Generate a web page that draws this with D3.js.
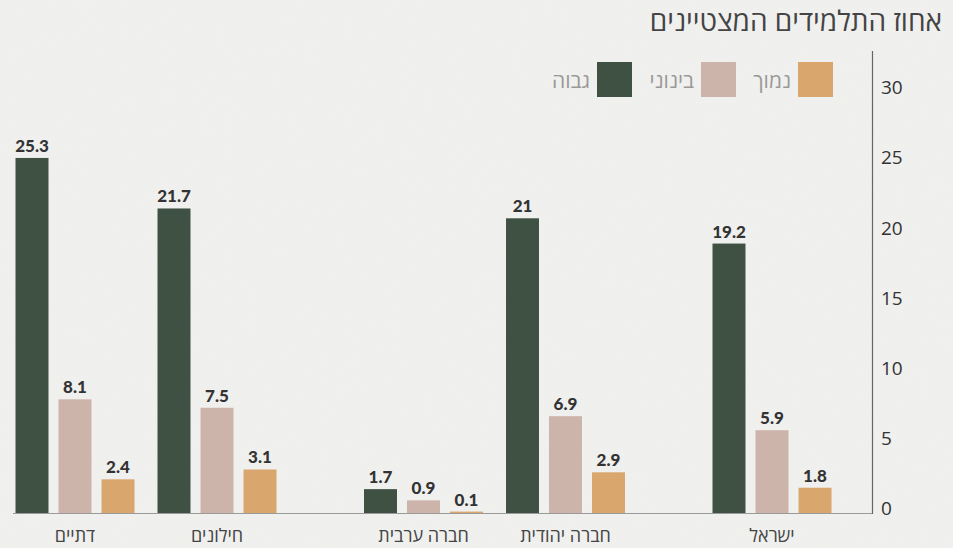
<!DOCTYPE html>
<html lang="he">
<head>
<meta charset="utf-8">
<script src="https://cdn.jsdelivr.net/npm/d3@7/dist/d3.min.js"></script>
<style>
  html, body { margin: 0; padding: 0; background: #efefed; }
  svg { display: block; }
</style>
</head>
<body>
<svg id="chart" width="953" height="548"></svg>
<script>
// ---- data ----
const categories = ["ישראל", "חברה יהודית", "חברה ערבית", "חילונים", "דתיים"];
const clusters   = [0, 1, 1, 2, 2];           // logical grouping: total | society | religiosity
const seriesNames = ["גבוה", "בינוני", "נמוך"];
const highValues   = [19.2, 21, 1.7, 21.7, 25.3];
const mediumValues = [5.9, 6.9, 0.9, 7.5, 8.1];
const lowValues    = [1.8, 2.9, 0.1, 3.1, 2.4];
const yTicks = [0, 5, 10, 15, 20, 25, 30];
const title = "אחוז התלמידים המצטיינים";

// ---- layout ----
const W = 953, H = 548;
const svg = d3.select("#chart");
const colors = { "גבוה": "#3e5143", "בינוני": "#cdb4ab", "נמוך": "#d9a66d" };

// paper texture
const defs = svg.append("defs");
const f = defs.append("filter").attr("id", "paper").attr("x", 0).attr("y", 0).attr("width", "100%").attr("height", "100%");
f.append("feTurbulence").attr("type", "fractalNoise").attr("baseFrequency", 0.9).attr("numOctaves", 2).attr("seed", 3).attr("result", "n");
f.append("feColorMatrix").attr("in", "n").attr("type", "matrix")
  .attr("values", "0 0 0 0 0.93  0 0 0 0 0.93  0 0 0 0 0.92  0 0 0 -0.9 0.55");
svg.append("rect").attr("width", W).attr("height", H).attr("fill", "#efefed");
svg.append("rect").attr("width", W).attr("height", H).attr("filter", "url(#paper)").attr("opacity", 0.6);

const y = d3.scaleLinear().domain([0, 30]).range([513, 92]);

const gapUnits = 0.4542;
const nSlots = categories.length - 1 + 2 * gapUnits;
const xPos = d3.scaleLinear().domain([0, nSlots]).range([772, 772 - 142 * nSlots]);
const groupCenter = (i) => xPos(i + clusters[i] * gapUnits);

const inner = d3.scaleBand().domain(seriesNames).range([-59.5, 59.5]).paddingInner(0.233).paddingOuter(0);

const table = [];
categories.forEach((c, i) => {
  const vals = [highValues[i], mediumValues[i], lowValues[i]];
  seriesNames.forEach((s, j) => table.push({ cat: c, i, series: s, value: vals[j] }));
});

// baseline
svg.append("line").attr("x1", 13).attr("x2", 872).attr("y1", y(0) + 0.5).attr("y2", y(0) + 0.5)
  .attr("stroke", "#9a9a9a").attr("stroke-width", 1.2);

// bars
svg.append("g").selectAll("rect").data(table).join("rect")
  .attr("x", d => groupCenter(d.i) + inner(d.series))
  .attr("width", inner.bandwidth())
  .attr("y", d => y(d.value))
  .attr("height", d => y(0) - y(d.value))
  .attr("fill", d => colors[d.series]);

// value labels
svg.append("g").selectAll("text").data(table).join("text")
  .attr("x", d => groupCenter(d.i) + inner(d.series) + inner.bandwidth() / 2)
  .attr("y", d => y(d.value) - 6)
  .attr("text-anchor", "middle")
  .attr("font-family", "Lato, 'Open Sans', sans-serif")
  .attr("font-weight", 900)
  .attr("font-size", 17)
  .attr("fill", "#333")
  .text(d => d.value);

// category labels
svg.append("g").selectAll("text").data(categories).join("text")
  .attr("x", (d, i) => groupCenter(i))
  .attr("y", 542)
  .attr("text-anchor", "middle")
  .attr("font-family", "'Open Sans', 'Noto Sans', sans-serif")
  .attr("font-size", 18)
  .attr("fill", "#444")
  .text(d => d);

// right axis
const axis = svg.append("g").attr("transform", "translate(872,0)")
  .call(d3.axisRight(y).tickValues(yTicks).tickSize(0).tickPadding(9).tickFormat(d3.format("d")));
axis.select(".domain").attr("stroke", "#666").attr("stroke-width", 1.2).attr("d", `M0.5,51V${y(0) + 1}`);
axis.selectAll("text")
  .attr("font-family", "'Open Sans', sans-serif")
  .attr("font-size", 19)
  .attr("fill", "#333")
  .attr("dy", "0.3em")
  .attr("transform", "translate(0,-4)");

// title
svg.append("text")
  .attr("x", 942).attr("y", 31)
  .attr("text-anchor", "start")
  .attr("direction", "rtl")
  .attr("font-family", "'Open Sans', 'Noto Sans', sans-serif")
  .attr("font-size", 28)
  .attr("fill", "#444")
  .text(title);

// legend (right to left: נמוך, בינוני, גבוה)
const legendOrder = ["נמוך", "בינוני", "גבוה"];
const lg = svg.append("g").selectAll("g").data(legendOrder).join("g")
  .attr("transform", (d, i) => `translate(${[833, 736, 632][i]},62)`);
lg.append("rect").attr("x", -35).attr("y", 0).attr("width", 35).attr("height", 35)
  .attr("fill", d => colors[d]);
lg.append("text").attr("x", -42).attr("y", 26)
  .attr("text-anchor", "end")
  .attr("font-family", "'Open Sans', 'Noto Sans', sans-serif")
  .attr("font-size", 21)
  .attr("fill", "#999")
  .text(d => d);
</script>
</body>
</html>
